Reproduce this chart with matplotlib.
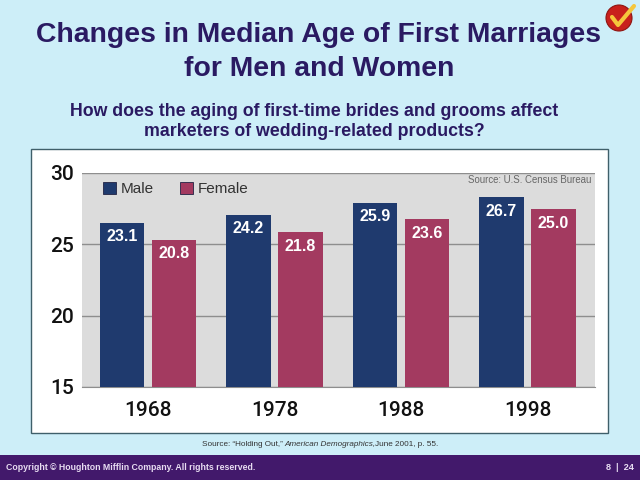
import matplotlib.pyplot as plt
from matplotlib.patches import Rectangle, Circle

# Chart data: bar heights as drawn differ from the printed labels
years = ['1968', '1978', '1988', '1998']
male_heights = [26.5, 27.05, 27.9, 28.3]
female_heights = [25.3, 25.85, 26.75, 27.45]
male_labels = ['23.1', '24.2', '25.9', '26.7']
female_labels = ['20.8', '21.8', '23.6', '25.0']
y_ticks = [15, 20, 25, 30]

NAVY = '#1F3A6E'
ROSE = '#A33A60'
INK = '#2A1A62'

plt.rcParams['font.family'] = ['Liberation Sans', 'DejaVu Sans']

fig = plt.figure(figsize=(6.4, 4.8), dpi=100, facecolor='#CDEEF8')

# Backdrop layer in pixel coordinates (panel, footer, headings)
bg = fig.add_axes([0, 0, 1, 1])
bg.set_xlim(0, 640)
bg.set_ylim(480, 0)
bg.axis('off')
bg.add_patch(Rectangle((31, 149), 577, 284, fc='white', ec='#3F5F6A', lw=1))
bg.add_patch(Rectangle((0, 455), 640, 25, fc='#42196B', ec='none'))

# Check mark badge
bg.add_patch(Circle((619, 18), 13, fc='#C8201C', ec='#8E1512', lw=0.8))
bg.plot([612, 618, 634], [17, 25, 6], color='#F5C63C', lw=3, solid_capstyle='round')

bg.text(319, 34.5, 'Changes in Median Age of First Marriages', ha='center', va='center',
        fontsize=20.4, fontweight='bold', color=INK)
bg.text(319, 69.5, 'for Men and Women', ha='center', va='center',
        fontsize=20.4, fontweight='bold', color=INK)
bg.text(314, 111, 'How does the aging of first-time brides and grooms affect', ha='center',
        va='center', fontsize=12.8, fontweight='bold', color=INK)
bg.text(314, 132, 'marketers of wedding-related products?', ha='center', va='center',
        fontsize=12.8, fontweight='bold', color=INK)

bg.text(202, 445, 'Source: \u201cHolding Out,\u201d', ha='left', va='center', fontsize=5.9, color='#333333')
bg.text(284, 445, 'American Demographics,', ha='left', va='center', fontsize=5.9,
        style='italic', color='#333333')
bg.text(375, 445, 'June 2001, p. 55.', ha='left', va='center', fontsize=5.9, color='#333333')

bg.text(6, 467.5, 'Copyright \u00a9 Houghton Mifflin Company. All rights reserved.', ha='left',
        va='center', fontsize=6.3, fontweight='bold', color='#E8DDF2')
bg.text(634, 467.5, '8  |  24', ha='right', va='center', fontsize=6.6, fontweight='bold',
        color='#E8DDF2')

# Plot area spans x 82-595 and y 173-387 in pixels
ax = fig.add_axes([82 / 640, (480 - 387) / 480, (595 - 82) / 640, (387 - 173) / 480])
ax.set_facecolor('#DCDCDC')

x = list(range(len(years)))
offset = 0.206
width = 0.352
male_bars = ax.bar([i - offset for i in x], male_heights, width, color=NAVY, label='Male', zorder=3)
female_bars = ax.bar([i + offset for i in x], female_heights, width, color=ROSE, label='Female', zorder=3)

for bars, labels in [(male_bars, male_labels), (female_bars, female_labels)]:
    for bar, label in zip(bars, labels):
        ax.annotate(label, (bar.get_x() + bar.get_width() / 2, bar.get_height()),
                    xytext=(0, -10), textcoords='offset points', ha='center', va='center',
                    color='white', fontsize=11.5, fontweight='bold', zorder=4)

ax.set_xlim(-0.522, 3.534)
ax.set_ylim(15, 30)
ax.set_xticks(x)
ax.set_xticklabels(years, fontsize=15, color='#111111', family=['Roboto', 'DejaVu Sans'], fontweight='medium')
ax.set_yticks(y_ticks)
ax.set_yticklabels(y_ticks, fontsize=15, color='#111111', family=['Roboto', 'DejaVu Sans'], fontweight='medium')
ax.tick_params(axis='both', length=0)
ax.tick_params(axis='x', pad=10)
ax.tick_params(axis='y', pad=6)
ax.grid(axis='y', color='#8E8E8E', lw=1, zorder=1)
for side in ['top', 'right', 'left']:
    ax.spines[side].set_visible(False)
ax.spines['bottom'].set_color('#8E8E8E')
ax.spines['bottom'].set_zorder(2)

legend = ax.legend(loc='upper left', bbox_to_anchor=(0.018, 1.015), ncol=2, frameon=False,
                   fontsize=11, handlelength=0.85, handleheight=0.85, handletextpad=0.3,
                   columnspacing=1.7, labelcolor='#333333', borderpad=0.3)
for handle in legend.get_patches():
    handle.set_edgecolor('#222244')
    handle.set_linewidth(0.6)

ax.text(0.992, 0.965, 'Source: U.S. Census Bureau', transform=ax.transAxes, ha='right',
        va='center', fontsize=6.9, color='#666666')

fig.savefig('out.png', dpi=100, facecolor=fig.get_facecolor())
